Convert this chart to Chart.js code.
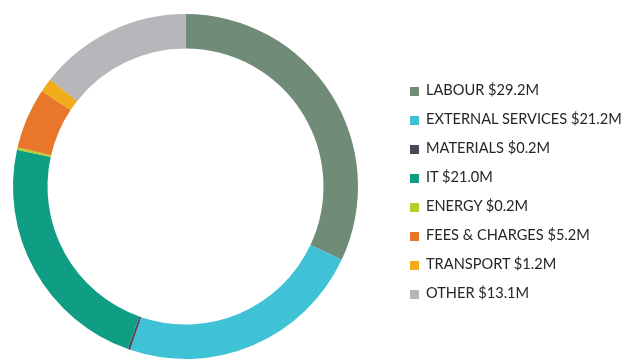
<!DOCTYPE html>
<html>
<head>
<meta charset="utf-8">
<script src="https://cdn.jsdelivr.net/npm/chart.js@4.4.1/dist/chart.umd.min.js"></script>
<style>
  html, body { margin: 0; padding: 0; background: #fff; }
  #wrap { position: relative; width: 622px; height: 361px; }
  #legend { position: absolute; left: 410px; top: 75px; margin: 0; padding: 0; list-style: none;
    font-family: Lato, "Open Sans", sans-serif; font-size: 14.6px; color: #262626; }
  #legend li { height: 29px; line-height: 29px; white-space: nowrap; }
  #legend span.box { display: inline-block; width: 9px; height: 9px; margin-right: 7px; vertical-align: -0.5px; }
</style>
</head>
<body>
<div id="wrap">
  <canvas id="costChart" width="622" height="361"></canvas>
  <ul id="legend"></ul>
</div>
<script>
const categories = ['LABOUR', 'EXTERNAL SERVICES', 'MATERIALS', 'IT', 'ENERGY', 'FEES & CHARGES', 'TRANSPORT', 'OTHER'];
const amounts = [29.2, 21.2, 0.2, 21.0, 0.2, 5.2, 1.2, 13.1]; // $M
const colours = ['#708b78', '#3fc1d6', '#4e4658', '#0f9e84', '#b7cc2c', '#e8772b', '#f1ac1c', '#b7b7bb'];

function formatMillions(value) {
  return '$' + value.toFixed(1) + 'M';
}

// Legend list on the right
const legend = document.getElementById('legend');
categories.forEach((name, i) => {
  const li = document.createElement('li');
  const box = document.createElement('span');
  box.className = 'box';
  box.style.background = colours[i];
  li.appendChild(box);
  li.appendChild(document.createTextNode(name + ' ' + formatMillions(amounts[i])));
  legend.appendChild(li);
});

const ctx = document.getElementById('costChart').getContext('2d');
new Chart(ctx, {
  type: 'doughnut',
  data: {
    labels: categories,
    datasets: [{
      data: amounts,
      backgroundColor: colours,
      borderWidth: 0
    }]
  },
  options: {
    responsive: false,
    animation: false,
    cutout: '80%',
    layout: { padding: { left: 11, top: 14, right: 262, bottom: 2 } },
    plugins: {
      legend: { display: false },
      tooltip: { enabled: false }
    }
  }
});
</script>
</body>
</html>
